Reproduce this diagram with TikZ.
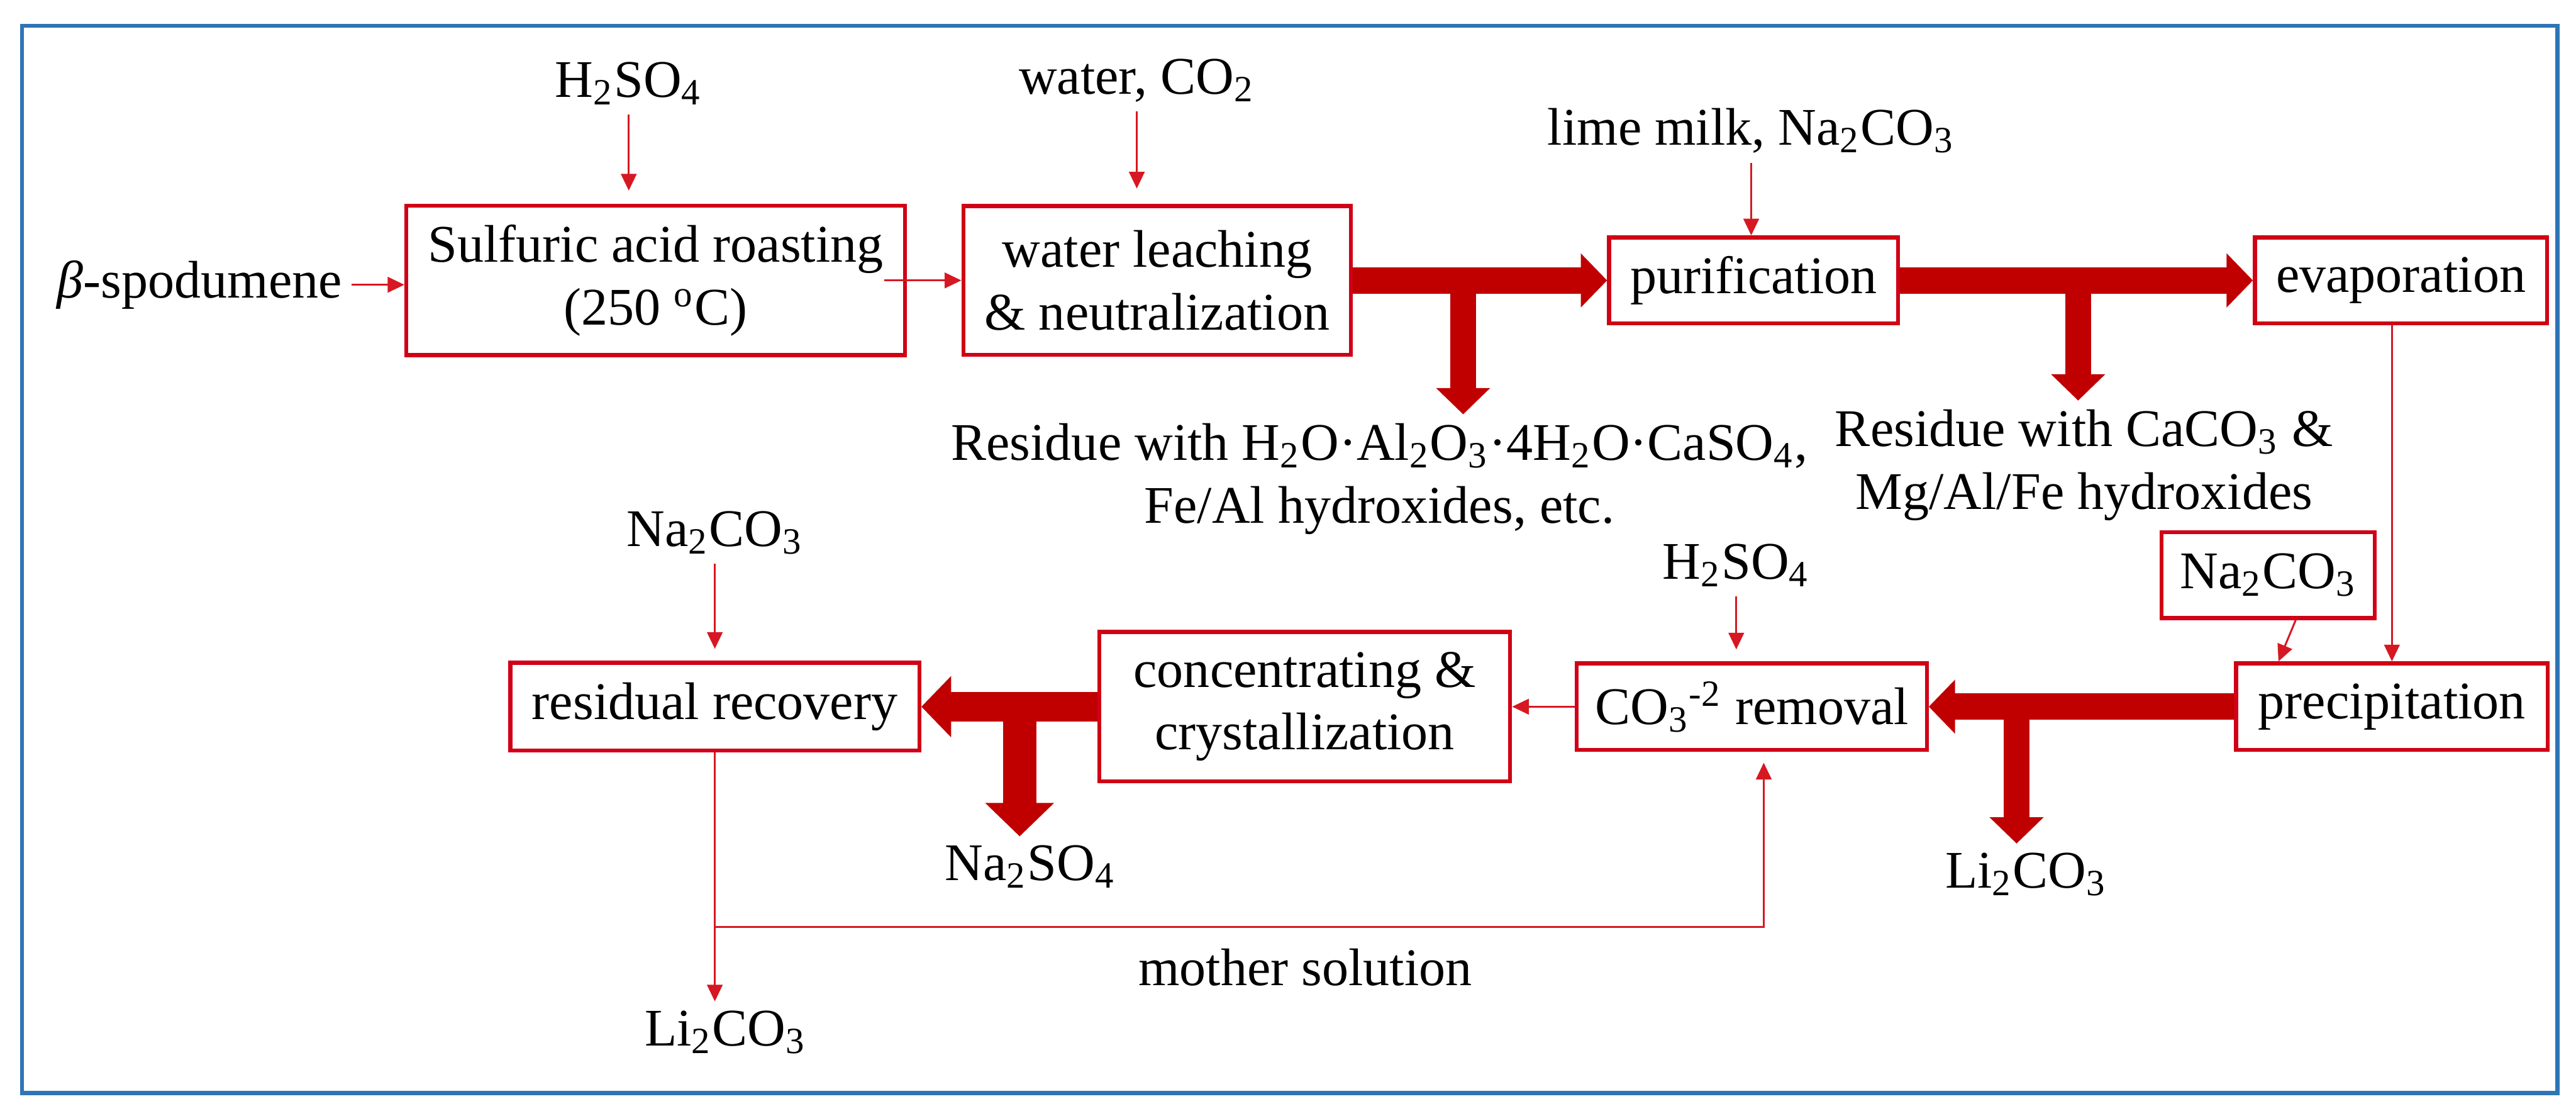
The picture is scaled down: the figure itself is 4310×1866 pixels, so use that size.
\documentclass[tikz,border=0pt]{standalone}
\usepackage{fontspec}
\setmainfont{Liberation Serif}
\usetikzlibrary{arrows.meta}

\definecolor{boxred}{RGB}{208,0,22}
\definecolor{feedred}{RGB}{214,24,34}
\definecolor{flowred}{RGB}{192,0,0}
\definecolor{frameblue}{RGB}{46,117,182}

\begin{document}
\begin{tikzpicture}[x=0.005cm, y=-0.005cm,
        font=\fontsize{12.6}{14.9}\selectfont,
        stage/.style={draw=boxred, line width=0.95pt, inner sep=0pt, align=center},
        chem/.style={inner sep=2pt, align=center},
        feed/.style={draw=feedred, line width=0.45pt,
                     -{Triangle[length=0.14cm, width=0.13cm]}},
        flow/.style={draw=flowred, line width=0.22cm,
                     -{Triangle[length=0pt 1, width=0pt 2]}}]
    \useasboundingbox (0,0) rectangle (4310,1866);
    \draw[frameblue, line width=0.035cm] (37,43) rectangle (4279,1828);

    % upper row
    \node[stage, minimum width=4.175cm, minimum height=1.25cm] (roast) at (1097,469)
        {Sulfuric acid roasting\\(250 \textsuperscript{o}C)};
    \node[stage, minimum width=3.245cm, minimum height=1.245cm] (leach) at (1936,469)
        {water leaching\\\& neutralization};
    \node[stage, minimum width=2.42cm, minimum height=0.72cm] (purif) at (2934,469)
        {purification};
    \node[stage, minimum width=2.445cm, minimum height=0.72cm] (evap) at (4017,469)
        {evaporation};

    \node[chem, anchor=base] (spod) at (334,498) {\textit{β}-spodumene};
    \node[chem, anchor=base] (acid1) at (1052,163) {H\textsubscript{2}SO\textsubscript{4}};
    \node[chem, anchor=base] (water) at (1902,157) {water, CO\textsubscript{2}};
    \node[chem, anchor=base] (lime) at (2930,243) {lime milk, Na\textsubscript{2}CO\textsubscript{3}};
    \node[chem, anchor=north] (resid1) at (2308,693)
        {Residue with H\textsubscript{2}O·Al\textsubscript{2}O\textsubscript{3}·4H\textsubscript{2}O·CaSO\textsubscript{4},\\Fe/Al hydroxides, etc.};
    \node[chem, anchor=north] (resid2) at (3487,670)
        {Residue with CaCO\textsubscript{3} \&\\Mg/Al/Fe hydroxides};

    % lower row
    \node[stage, minimum width=2.61cm, minimum height=0.725cm] (precip) at (4002,1182)
        {precipitation};
    \node[stage, minimum width=1.785cm, minimum height=0.72cm] (soda) at (3795,962)
        {Na\textsubscript{2}CO\textsubscript{3}};
    \node[stage, minimum width=2.93cm, minimum height=0.725cm] (decarb) at (2931,1182)
        {CO\textsubscript{3}\textsuperscript{-2} removal};
    \node[stage, minimum width=3.44cm, minimum height=1.25cm] (cryst) at (2183,1182)
        {concentrating \&\\crystallization};
    \node[stage, minimum width=3.425cm, minimum height=0.735cm] (recov) at (1196,1182)
        {residual recovery};

    \node[chem, anchor=base] (acid2) at (2905,969) {H\textsubscript{2}SO\textsubscript{4}};
    \node[chem, anchor=base] (soda2) at (1196,914) {Na\textsubscript{2}CO\textsubscript{3}};
    \node[chem, anchor=base] (carb1) at (3390,1485) {Li\textsubscript{2}CO\textsubscript{3}};
    \node[chem, anchor=base] (sulf) at (1724,1473) {Na\textsubscript{2}SO\textsubscript{4}};
    \node[chem, anchor=base] (carb2) at (1214,1749) {Li\textsubscript{2}CO\textsubscript{3}};
    \node[chem, anchor=base] (mother) at (2184,1648) {mother solution};

    \coordinate (t1) at (2448,469);
    \coordinate (t2) at (3477,469);
    \coordinate (t3) at (3374,1182);
    \coordinate (t4) at (1706,1182);
    \coordinate (msy) at (0,1550);
    \coordinate (ms) at (recov.south |- msy);

    % thin feeds
    \draw[feed] (spod.east) -- (spod.east -| roast.west);
    \draw[feed] ([xshift=-0.19cm]roast.east) -- (leach.west);
    \draw[feed, shorten >=0.11cm] (acid1.south) -- (acid1.south |- roast.north);
    \draw[feed, shorten >=0.13cm] (water.south) -- (water.south |- leach.north);
    \draw[feed] (lime.south) -- (lime.south |- purif.north);
    \draw[feed] (precip.north |- evap.south) -- (precip.north);
    \draw[feed] ([xshift=0.23cm]soda.south) -- ([xshift=-0.95cm]precip.north);
    \draw[feed, shorten >=0.1cm] (acid2.south) -- (acid2.south |- decarb.north);
    \draw[feed] (decarb.west) -- (cryst.east);
    \draw[feed, shorten >=0.1cm] (soda2.south) -- (soda2.south |- recov.north);
    \draw[feed] (recov.south) -- (recov.south |- carb2.north);
    \draw[feed, shorten >=0.09cm] (ms) -| ([xshift=0.1cm]decarb.south);

    % main flow
    \draw[flow] (leach.east) -- (purif.west);
    \draw[flow] (t1) -- (t1 |- resid1.north);
    \draw[flow] (purif.east) -- (evap.west);
    \draw[flow] (t2) -- (t2 |- resid2.north);
    \draw[flow] (precip.west) -- (decarb.east);
    \draw[flow] (t3) -- (t3 |- carb1.north);
    \draw[flow, line width=0.25cm] (cryst.west) -- (recov.east);
    \draw[flow, line width=0.28cm] (t4) -- (t4 |- sulf.north);
\end{tikzpicture}
\end{document}
